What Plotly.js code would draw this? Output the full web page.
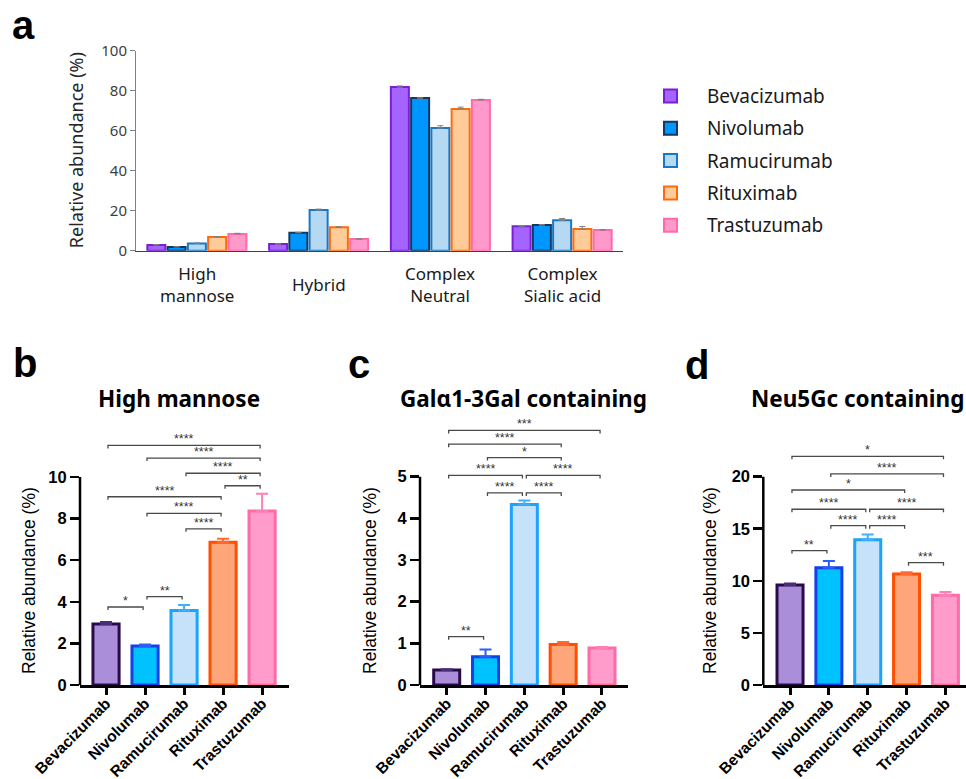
<!DOCTYPE html>
<html><head><meta charset="utf-8">
<script src="https://cdn.plot.ly/plotly-3.0.1.min.js"></script>
<style>html,body{margin:0;padding:0;background:#fff}</style>
</head><body>
<div id="chart" style="width:966px;height:779px"></div>
<script>
// ---------------- DATA ----------------
const antibodies = ['Bevacizumab', 'Nivolumab', 'Ramucirumab', 'Rituximab', 'Trastuzumab'];
const glycanTypes = ['High mannose', 'Hybrid', 'Complex Neutral', 'Complex Sialic acid'];
const glycanTickText = ['High<br>mannose', 'Hybrid', 'Complex<br>Neutral', 'Complex<br>Sialic acid'];

// panel a: relative abundance (%) per glycan type, one array per antibody
const aBevacizumab = [2.9, 3.3, 81.8, 12.2];
const aNivolumab = [1.9, 9.0, 76.3, 12.8];
const aRamucirumab = [3.6, 20.3, 61.3, 15.2];
const aRituximab = [6.9, 11.7, 70.8, 10.8];
const aTrastuzumab = [8.4, 5.8, 75.3, 10.3];
const aBevacizumabErr = [0.15, 0.2, 0.6, 0.3];
const aNivolumabErr = [0.1, 0.2, 0.2, 0.2];
const aRamucirumabErr = [0.3, 0.5, 1.2, 0.9];
const aRituximabErr = [0.2, 0.3, 1.0, 1.3];
const aTrastuzumabErr = [0.3, 0.2, 0.4, 0.3];

// panel b, c, d: per antibody
const highMannose = [2.93, 1.87, 3.58, 6.86, 8.36];
const highMannoseErr = [0.1, 0.08, 0.27, 0.17, 0.83];
const galContaining = [0.36, 0.68, 4.33, 0.97, 0.89];
const galContainingErr = [0.02, 0.17, 0.1, 0.06, 0.02];
const neu5GcContaining = [9.6, 11.25, 13.95, 10.65, 8.62];
const neu5GcContainingErr = [0.15, 0.65, 0.5, 0.18, 0.3];

// significance: [from index, to index, label, bracket level (data units)]
const sigHighMannose = [[0,4,'****',11.52],[1,4,'****',10.91],[2,4,'****',10.18],[3,4,'**',9.58],
  [0,3,'****',9.05],[1,3,'****',8.25],[2,3,'****',7.51],[0,1,'*',3.75],[1,2,'**',4.25]];
const sigGal = [[0,4,'***',6.11],[0,3,'****',5.78],[1,3,'*',5.46],[0,2,'****',5.03],[2,4,'****',5.03],
  [1,2,'****',4.61],[2,3,'****',4.61],[0,1,'**',1.16]];
const sigNeu5Gc = [[0,4,'*',21.95],[1,4,'****',20.26],[0,3,'*',18.72],[0,2,'****',16.87],[2,4,'****',16.87],
  [1,2,'****',15.29],[2,3,'****',15.29],[3,4,'***',11.74],[0,1,'**',12.9]];

// ---------------- STYLE ----------------
const W = 966, H = 779;
const px = x => x / W, py = y => 1 - y / H;
const fillA = ['#a564ff', '#0096ff', '#b5d9f2', '#ffcc99', '#ff99cc'];
const lineA = ['#7a1fd6', '#17375e', '#1a78c2', '#ff6a0e', '#ff6aa8'];
const fillB = ['#ab8ed9', '#00c2ff', '#c5e2fa', '#ffa57a', '#ff9ccb'];
const lineB = ['#2a0a4a', '#1540e8', '#1aa3ff', '#ff4f00', '#ff6ba6'];
const errB  = ['#4a2c7a', '#2a5cff', '#3fb0ff', '#ff6a30', '#ff80b5'];

const aSeries = [aBevacizumab, aNivolumab, aRamucirumab, aRituximab, aTrastuzumab];
const aErrs = [aBevacizumabErr, aNivolumabErr, aRamucirumabErr, aRituximabErr, aTrastuzumabErr];

const traces = [];
const xIdxA = glycanTypes.map((_, i) => i);
aSeries.forEach((vals, i) => {
  traces.push({
    type: 'bar', name: antibodies[i], x: xIdxA, y: vals, xaxis: 'x', yaxis: 'y',
    marker: {color: fillA[i], line: {color: lineA[i], width: 2}},
    error_y: {type: 'data', array: aErrs[i], arrayminus: vals.map(() => 0), symmetric: false,
      color: '#808080', thickness: 1, width: 3},
    showlegend: false, hoverinfo: 'skip'
  });
});

const panels = [
  {vals: highMannose, errs: highMannoseErr, sig: sigHighMannose, ax: '2'},
  {vals: galContaining, errs: galContainingErr, sig: sigGal, ax: '3'},
  {vals: neu5GcContaining, errs: neu5GcContainingErr, sig: sigNeu5Gc, ax: '4'}
];
panels.forEach(p => {
  p.vals.forEach((v, j) => {
    traces.push({
      type: 'bar', x: [j], y: [v], width: [0.67], offsetgroup: 'g' + p.ax,
      xaxis: 'x' + p.ax, yaxis: 'y' + p.ax,
      marker: {color: fillB[j], line: {color: lineB[j], width: 3}},
      error_y: {type: 'data', array: [p.errs[j]], arrayminus: [0], symmetric: false,
        color: errB[j], thickness: 2, width: 6},
      showlegend: false, hoverinfo: 'skip'
    });
  });
});

// ---------------- LAYOUT ----------------
const axB = {family: 'Liberation Sans, Arial, sans-serif'};
function xB(d0, d1, r, anchor) {
  return {domain: [px(d0), px(d1)], range: r, anchor: anchor, tickvals: [0,1,2,3,4], ticktext: antibodies,
    tickangle: -45, ticks: 'outside', ticklen: 7, tickwidth: 3, tickcolor: '#000',
    showline: true, linecolor: '#000', linewidth: 2.5, showgrid: false, zeroline: false,
    ticklabelstandoff: -6,
    tickfont: {family: axB.family, size: 15.5, color: '#000', weight: 'bold'}, fixedrange: true};
}
function yB(top, rmax, tv, anchor) {
  return {domain: [py(685), py(top)], range: [0, rmax], anchor: anchor, tickvals: tv,
    ticks: 'outside', ticklen: 9, tickwidth: 2.5, tickcolor: '#000', showline: false,
    showgrid: false, zeroline: false,
    tickfont: {family: axB.family, size: 16.5, color: '#000', weight: 'bold'}, fixedrange: true};
}

const layout = {
  width: W, height: H, margin: {l: 0, r: 0, t: 0, b: 0},
  paper_bgcolor: '#ffffff', plot_bgcolor: 'rgba(0,0,0,0)',
  barmode: 'group', bargap: 0.168, bargroupgap: 0.11, showlegend: false,
  xaxis: {domain: [px(136), px(623)], range: [-0.5, 3.5], anchor: 'y', tickvals: xIdxA,
    showticklabels: false, ticks: '', showline: true, linecolor: '#404040', linewidth: 1.3,
    showgrid: false, zeroline: false, fixedrange: true},
  yaxis: {domain: [py(250.7), py(50.7)], range: [0, 100], anchor: 'x', tickvals: [0,20,40,60,80,100],
    ticks: 'outside', ticklen: 5, tickwidth: 1, tickcolor: '#808080', showline: true,
    linecolor: '#808080', linewidth: 1, showgrid: false, zeroline: false,
    tickfont: {family: 'Noto Sans', size: 15, color: '#404040'}, fixedrange: true},
  xaxis2: xB(80, 289, [-0.667, 4.69], 'y2'),
  yaxis2: yB(435.4, 12, [0,2,4,6,8,10], 'x2'),
  xaxis3: xB(420, 628, [-0.688, 4.67], 'y3'),
  yaxis3: yB(414.2, 6.5, [0,1,2,3,4,5], 'x3'),
  xaxis4: xB(763.3, 966, [-0.688, 4.53], 'y4'),
  yaxis4: yB(445.4, 23, [0,5,10,15,20], 'x4'),
  shapes: [], annotations: []
};

// y axis lines of b-d (stop at top tick)
const yTops = {'2': 10, '3': 5, '4': 20};
Object.keys(yTops).forEach(k => {
  layout.shapes.push({type: 'line', xref: 'x' + k + ' domain', yref: 'y' + k, x0: 0, x1: 0,
    y0: 0, y1: yTops[k], line: {color: '#000', width: 2.5}, layer: 'above'});
});

// significance brackets
panels.forEach(p => {
  const ya = layout['yaxis' + p.ax];
  const pxPerUnit = (ya.domain[1] - ya.domain[0]) * H / (ya.range[1] - ya.range[0]);
  const drop = 3 / pxPerUnit;
  const inset = 0.05;
  p.sig.forEach(s => {
    const x0 = s[0] + inset, x1 = s[1] - inset, y = s[3];
    layout.shapes.push({type: 'path', xref: 'x' + p.ax, yref: 'y' + p.ax,
      path: `M${x0},${y - drop} L${x0},${y} L${x1},${y} L${x1},${y - drop}`,
      line: {color: '#4a4a4a', width: 1.3}});
    layout.annotations.push({xref: 'x' + p.ax, yref: 'y' + p.ax, x: (s[0] + s[1]) / 2, y: y,
      text: s[2], showarrow: false, yanchor: 'bottom', yshift: -3,
      font: {family: axB.family, size: 12.5, color: '#333'}});
  });
});

// panel a category labels
glycanTickText.forEach((t, i) => {
  layout.annotations.push({xref: 'x', yref: 'paper', x: i, y: py(284), text: t, showarrow: false,
    yanchor: 'middle', font: {family: 'Noto Sans', size: 17, color: '#1a1a1a'}});
});

// panel a legend (manual)
antibodies.forEach((name, i) => {
  const cy = 96 + i * 32.3;
  layout.shapes.push({type: 'rect', xref: 'paper', yref: 'paper', x0: px(664), x1: px(677),
    y0: py(cy + 6.5), y1: py(cy - 6.5), fillcolor: fillA[i], line: {color: lineA[i], width: 2}});
  layout.annotations.push({xref: 'paper', yref: 'paper', x: px(705), y: py(cy), text: name,
    showarrow: false, xanchor: 'left', yanchor: 'middle',
    font: {family: 'Noto Sans', size: 19, color: '#1a1a1a'}});
});

// axis titles
const yTitles = [
  {x: 75.5, y: 150.7, f: {family: 'Noto Sans', size: 18, color: '#262626'}},
  {x: 29, y: 581, f: {family: axB.family, size: 17.5, color: '#000'}},
  {x: 370, y: 581, f: {family: axB.family, size: 17.5, color: '#000'}},
  {x: 710, y: 581, f: {family: axB.family, size: 17.5, color: '#000'}}
];
yTitles.forEach(t => {
  layout.annotations.push({xref: 'paper', yref: 'paper', x: px(t.x), y: py(t.y),
    text: 'Relative abundance (%)', textangle: -90, showarrow: false,
    xanchor: 'center', yanchor: 'middle', font: t.f});
});

// panel titles
const panelTitles = [['High mannose', 179], ['Galα1-3Gal containing', 523], ['Neu5Gc containing', 857]];
panelTitles.forEach(t => {
  layout.annotations.push({xref: 'paper', yref: 'paper', x: px(t[1]), y: py(398), text: t[0],
    showarrow: false, xanchor: 'center', yanchor: 'middle',
    font: {family: 'Noto Sans', size: 22.5, color: '#000', weight: 'bold'}});
});

// panel letters
const letters = [['a', 10, 25], ['b', 11, 363], ['c', 346, 364], ['d', 683, 365]];
letters.forEach(l => {
  layout.annotations.push({xref: 'paper', yref: 'paper', x: px(l[1]), y: py(l[2]), text: l[0],
    showarrow: false, xanchor: 'left', yanchor: 'middle',
    font: {family: 'Liberation Sans, Arial, sans-serif', size: 40, color: '#000', weight: 'bold'}});
});

Plotly.newPlot('chart', traces, layout, {staticPlot: true, displayModeBar: false});
</script>
</body></html>
